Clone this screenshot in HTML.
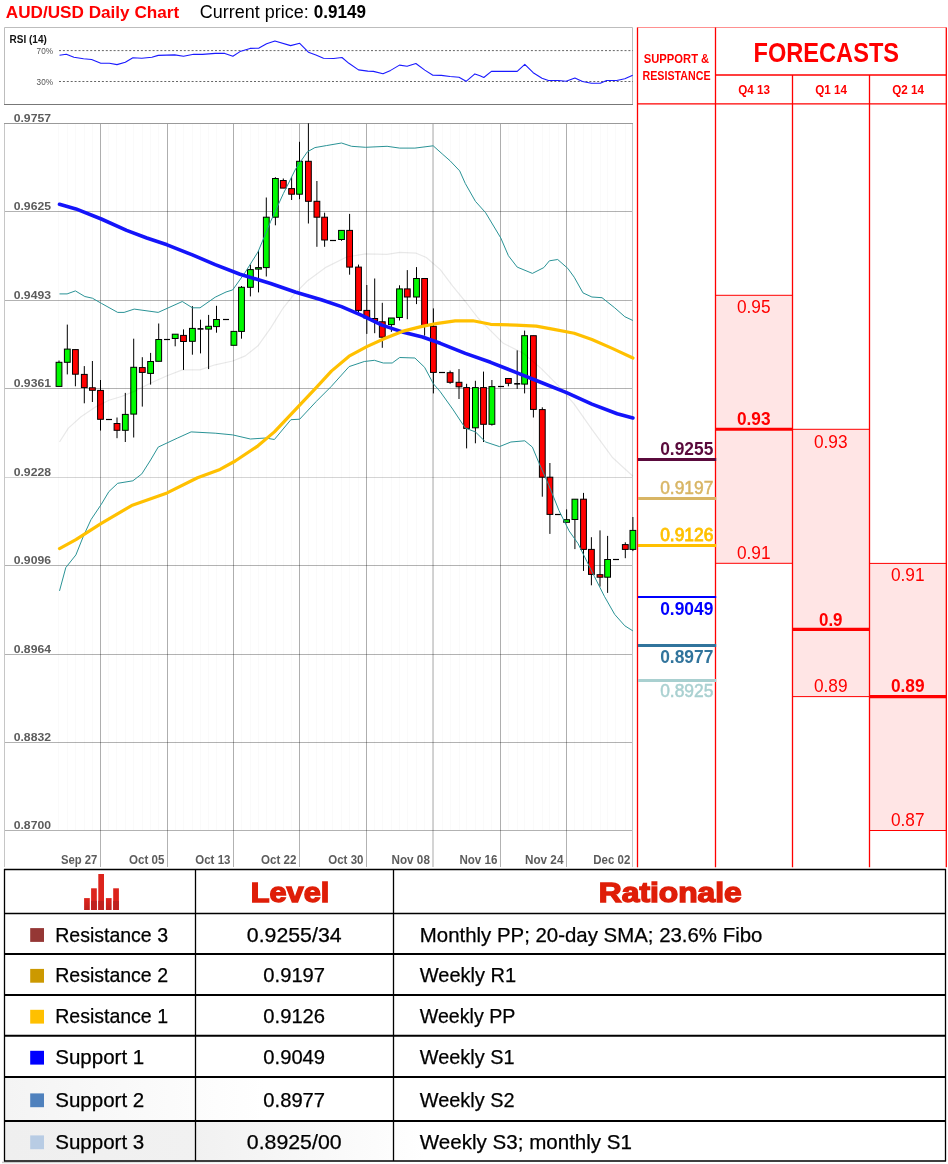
<!DOCTYPE html>
<html><head><meta charset="utf-8"><title>AUD/USD Daily Chart</title>
<style>
html,body{margin:0;padding:0;background:#fff;}
body{width:948px;height:1164px;overflow:hidden;position:relative;font-family:"Liberation Sans",sans-serif;}
svg{position:absolute;left:0;top:0;display:block;will-change:transform}
text{font-family:"Liberation Sans",sans-serif;}
.ax{font:bold 10.7px "Liberation Sans",sans-serif;fill:#5c5c5c;}
.tt{font:20.2px "Liberation Sans",sans-serif;fill:#000;stroke:#000;stroke-width:0.25px;}
.hd{font:bold 27.4px "Liberation Sans",sans-serif;fill:#df1e08;stroke:#df1e08;stroke-width:1.4px;}
</style></head><body>
<svg width="948" height="1164" viewBox="0 0 948 1164">
<rect width="948" height="1164" fill="#fff"/>
<text x="5.8" y="17.6" textLength="173.4" lengthAdjust="spacingAndGlyphs" style="font:bold 17px 'Liberation Sans',sans-serif;fill:#ff0000">AUD/USD Daily Chart</text>
<text x="199.7" y="17.6" textLength="109" lengthAdjust="spacingAndGlyphs" style="font:17.5px 'Liberation Sans',sans-serif;fill:#000">Current price:</text>
<text x="313.8" y="17.6" textLength="52.2" lengthAdjust="spacingAndGlyphs" style="font:bold 17.5px 'Liberation Sans',sans-serif;fill:#000">0.9149</text>
<g id="chart">
<rect x="4.5" y="123.5" width="628.5" height="744" fill="#fff" stroke="none"/>
<path d="M58.5,124V830 M67.5,124V830 M75.5,124V830 M84.5,124V830 M92.5,124V830 M100.5,124V830 M108.5,124V830 M116.5,124V830 M125.5,124V830 M133.5,124V830 M142.5,124V830 M150.5,124V830 M158.5,124V830 M167.5,124V830 M175.5,124V830 M183.5,124V830 M192.5,124V830 M200.5,124V830 M208.5,124V830 M216.5,124V830 M225.5,124V830 M233.5,124V830 M241.5,124V830 M250.5,124V830 M258.5,124V830 M266.5,124V830 M275.5,124V830 M283.5,124V830 M291.5,124V830 M299.5,124V830 M308.5,124V830 M316.5,124V830 M324.5,124V830 M332.5,124V830 M341.5,124V830 M349.5,124V830 M358.5,124V830 M366.5,124V830 M374.5,124V830 M382.5,124V830 M391.5,124V830 M399.5,124V830 M407.5,124V830 M416.5,124V830 M424.5,124V830 M433.5,124V830 M442.5,124V830 M450.5,124V830 M459.5,124V830 M466.5,124V830 M475.5,124V830 M483.5,124V830 M491.5,124V830 M500.5,124V830 M508.5,124V830 M517.5,124V830 M524.5,124V830 M533.5,124V830 M542.5,124V830 M549.5,124V830 M558.5,124V830 M566.5,124V830 M574.5,124V830 M583.5,124V830 M591.5,124V830 M600.5,124V830 M607.5,124V830 M615.5,124V830 M625.5,124V830 M632.5,124V830 " stroke="#000" stroke-opacity="0.02" stroke-width="1" fill="none"/>
<line x1="100.5" y1="124" x2="100.5" y2="867" stroke="#000" stroke-opacity="0.3" stroke-width="1"/>
<line x1="167.5" y1="124" x2="167.5" y2="867" stroke="#000" stroke-opacity="0.3" stroke-width="1"/>
<line x1="233.5" y1="124" x2="233.5" y2="867" stroke="#000" stroke-opacity="0.3" stroke-width="1"/>
<line x1="299.5" y1="124" x2="299.5" y2="867" stroke="#000" stroke-opacity="0.3" stroke-width="1"/>
<line x1="366.5" y1="124" x2="366.5" y2="867" stroke="#000" stroke-opacity="0.3" stroke-width="1"/>
<line x1="433.0" y1="124" x2="433.0" y2="867" stroke="#000" stroke-opacity="0.17" stroke-width="2"/>
<line x1="500.5" y1="124" x2="500.5" y2="867" stroke="#000" stroke-opacity="0.3" stroke-width="1"/>
<line x1="566.5" y1="124" x2="566.5" y2="867" stroke="#000" stroke-opacity="0.3" stroke-width="1"/>
<line x1="5" y1="211.5" x2="632" y2="211.5" stroke="#000" stroke-opacity="0.3" stroke-width="1"/>
<line x1="5" y1="300.5" x2="632" y2="300.5" stroke="#000" stroke-opacity="0.3" stroke-width="1"/>
<line x1="5" y1="388.5" x2="632" y2="388.5" stroke="#000" stroke-opacity="0.3" stroke-width="1"/>
<line x1="5" y1="477.5" x2="632" y2="477.5" stroke="#000" stroke-opacity="0.17" stroke-width="1"/>
<line x1="5" y1="565.5" x2="632" y2="565.5" stroke="#000" stroke-opacity="0.3" stroke-width="1"/>
<line x1="5" y1="654.5" x2="632" y2="654.5" stroke="#000" stroke-opacity="0.3" stroke-width="1"/>
<line x1="5" y1="742.5" x2="632" y2="742.5" stroke="#000" stroke-opacity="0.3" stroke-width="1"/>
<line x1="5" y1="830.5" x2="632" y2="830.5" stroke="#000" stroke-opacity="0.3" stroke-width="1"/>
<path d="M4.5,867V123.5 M632.5,123.5V867" stroke="#c6c6c6" stroke-width="1" fill="none"/>
<path d="M4,123.5H633" stroke="#9a9a9a" stroke-width="1" fill="none"/>
<line x1="59.0" y1="360.5" x2="59.0" y2="386.3" stroke="#000" stroke-width="1"/>
<rect x="56.1" y="362.3" width="5.8" height="24.1" fill="#00fa00" stroke="#000" stroke-width="1"/>
<line x1="67.3" y1="324.6" x2="67.3" y2="374.4" stroke="#000" stroke-width="1"/>
<rect x="64.4" y="349.1" width="5.8" height="13.2" fill="#00fa00" stroke="#000" stroke-width="1"/>
<line x1="75.4" y1="349.6" x2="75.4" y2="386.3" stroke="#000" stroke-width="1"/>
<rect x="72.5" y="349.6" width="5.8" height="24.6" fill="#ff0000" stroke="#000" stroke-width="1"/>
<line x1="84.3" y1="366.1" x2="84.3" y2="403.3" stroke="#000" stroke-width="1"/>
<rect x="81.4" y="374.4" width="5.8" height="13.2" fill="#ff0000" stroke="#000" stroke-width="1"/>
<line x1="92.4" y1="361.0" x2="92.4" y2="402.0" stroke="#000" stroke-width="1"/>
<rect x="89.5" y="387.8" width="5.8" height="2.5" fill="#ff0000" stroke="#000" stroke-width="1"/>
<line x1="100.5" y1="380.0" x2="100.5" y2="430.6" stroke="#000" stroke-width="1"/>
<rect x="97.6" y="390.4" width="5.8" height="28.9" fill="#ff0000" stroke="#000" stroke-width="1"/>
<line x1="106" y1="419.5" x2="112" y2="419.5" stroke="#000" stroke-width="1.2"/>
<line x1="117.0" y1="417.5" x2="117.0" y2="438.2" stroke="#000" stroke-width="1"/>
<rect x="114.1" y="423.5" width="5.8" height="6.8" fill="#ff0000" stroke="#000" stroke-width="1"/>
<line x1="125.3" y1="392.9" x2="125.3" y2="442.0" stroke="#000" stroke-width="1"/>
<rect x="122.4" y="414.4" width="5.8" height="15.9" fill="#00fa00" stroke="#000" stroke-width="1"/>
<line x1="133.7" y1="338.7" x2="133.7" y2="437.5" stroke="#000" stroke-width="1"/>
<rect x="130.8" y="367.3" width="5.8" height="46.8" fill="#00fa00" stroke="#000" stroke-width="1"/>
<line x1="142.3" y1="357.2" x2="142.3" y2="406.6" stroke="#000" stroke-width="1"/>
<rect x="139.4" y="367.6" width="5.8" height="4.8" fill="#ff0000" stroke="#000" stroke-width="1"/>
<line x1="150.6" y1="352.9" x2="150.6" y2="384.6" stroke="#000" stroke-width="1"/>
<rect x="147.7" y="361.5" width="5.8" height="11.9" fill="#00fa00" stroke="#000" stroke-width="1"/>
<line x1="158.7" y1="323.5" x2="158.7" y2="361.3" stroke="#000" stroke-width="1"/>
<rect x="155.8" y="339.5" width="5.8" height="21.8" fill="#00fa00" stroke="#000" stroke-width="1"/>
<line x1="164" y1="339.5" x2="170" y2="339.5" stroke="#000" stroke-width="1.2"/>
<line x1="175.2" y1="334.2" x2="175.2" y2="346.3" stroke="#000" stroke-width="1"/>
<rect x="172.3" y="334.2" width="5.8" height="4.3" fill="#00fa00" stroke="#000" stroke-width="1"/>
<line x1="183.5" y1="329.4" x2="183.5" y2="369.9" stroke="#000" stroke-width="1"/>
<rect x="180.6" y="335.4" width="5.8" height="6.1" fill="#ff0000" stroke="#000" stroke-width="1"/>
<line x1="192.4" y1="306.1" x2="192.4" y2="354.7" stroke="#000" stroke-width="1"/>
<rect x="189.5" y="328.4" width="5.8" height="12.9" fill="#00fa00" stroke="#000" stroke-width="1"/>
<line x1="200.5" y1="319.7" x2="200.5" y2="353.4" stroke="#000" stroke-width="1"/>
<line x1="197.5" y1="328.9" x2="203.5" y2="328.9" stroke="#000" stroke-width="1.6"/>
<line x1="208.6" y1="314.9" x2="208.6" y2="369.1" stroke="#000" stroke-width="1"/>
<rect x="205.7" y="326.3" width="5.8" height="2.8" fill="#00fa00" stroke="#000" stroke-width="1"/>
<line x1="216.5" y1="305.8" x2="216.5" y2="332.7" stroke="#000" stroke-width="1"/>
<rect x="213.6" y="319.5" width="5.8" height="7.1" fill="#00fa00" stroke="#000" stroke-width="1"/>
<line x1="223" y1="319.5" x2="229" y2="319.5" stroke="#000" stroke-width="1.2"/>
<line x1="233.9" y1="331.4" x2="233.9" y2="345.3" stroke="#000" stroke-width="1"/>
<rect x="231.0" y="331.4" width="5.8" height="13.9" fill="#00fa00" stroke="#000" stroke-width="1"/>
<line x1="241.5" y1="286.0" x2="241.5" y2="338.7" stroke="#000" stroke-width="1"/>
<rect x="238.6" y="287.3" width="5.8" height="44.1" fill="#00fa00" stroke="#000" stroke-width="1"/>
<line x1="250.4" y1="264.6" x2="250.4" y2="296.4" stroke="#000" stroke-width="1"/>
<rect x="247.5" y="269.6" width="5.8" height="17.7" fill="#00fa00" stroke="#000" stroke-width="1"/>
<line x1="258.5" y1="250.6" x2="258.5" y2="292.4" stroke="#000" stroke-width="1"/>
<rect x="255.6" y="267.6" width="5.8" height="1.5" fill="#00fa00" stroke="#000" stroke-width="1"/>
<line x1="266.3" y1="197.5" x2="266.3" y2="276.5" stroke="#000" stroke-width="1"/>
<rect x="263.4" y="217.2" width="5.8" height="50.4" fill="#00fa00" stroke="#000" stroke-width="1"/>
<line x1="275.4" y1="177.2" x2="275.4" y2="225.3" stroke="#000" stroke-width="1"/>
<rect x="272.5" y="178.5" width="5.8" height="38.7" fill="#00fa00" stroke="#000" stroke-width="1"/>
<line x1="283.3" y1="178.5" x2="283.3" y2="188.1" stroke="#000" stroke-width="1"/>
<rect x="280.4" y="180.5" width="5.8" height="7.6" fill="#ff0000" stroke="#000" stroke-width="1"/>
<line x1="291.6" y1="177.2" x2="291.6" y2="200.0" stroke="#000" stroke-width="1"/>
<rect x="288.7" y="188.6" width="5.8" height="5.6" fill="#ff0000" stroke="#000" stroke-width="1"/>
<line x1="299.5" y1="141.8" x2="299.5" y2="199.2" stroke="#000" stroke-width="1"/>
<rect x="296.6" y="161.3" width="5.8" height="32.9" fill="#00fa00" stroke="#000" stroke-width="1"/>
<line x1="308.4" y1="123.3" x2="308.4" y2="223.5" stroke="#000" stroke-width="1"/>
<rect x="305.5" y="161.3" width="5.8" height="40.0" fill="#ff0000" stroke="#000" stroke-width="1"/>
<line x1="316.9" y1="181.0" x2="316.9" y2="246.8" stroke="#000" stroke-width="1"/>
<rect x="314.0" y="201.3" width="5.8" height="15.9" fill="#ff0000" stroke="#000" stroke-width="1"/>
<line x1="324.6" y1="212.7" x2="324.6" y2="246.8" stroke="#000" stroke-width="1"/>
<rect x="321.7" y="217.2" width="5.8" height="22.8" fill="#ff0000" stroke="#000" stroke-width="1"/>
<line x1="330" y1="240.5" x2="336" y2="240.5" stroke="#000" stroke-width="1.2"/>
<line x1="341.5" y1="230.4" x2="341.5" y2="240.8" stroke="#000" stroke-width="1"/>
<rect x="338.6" y="230.4" width="5.8" height="9.1" fill="#00fa00" stroke="#000" stroke-width="1"/>
<line x1="349.6" y1="213.9" x2="349.6" y2="274.7" stroke="#000" stroke-width="1"/>
<rect x="346.7" y="230.4" width="5.8" height="36.7" fill="#ff0000" stroke="#000" stroke-width="1"/>
<line x1="358.5" y1="264.6" x2="358.5" y2="312.9" stroke="#000" stroke-width="1"/>
<rect x="355.6" y="267.1" width="5.8" height="43.3" fill="#ff0000" stroke="#000" stroke-width="1"/>
<line x1="366.8" y1="285.0" x2="366.8" y2="333.9" stroke="#000" stroke-width="1"/>
<rect x="363.9" y="310.4" width="5.8" height="7.6" fill="#ff0000" stroke="#000" stroke-width="1"/>
<line x1="374.7" y1="278.5" x2="374.7" y2="333.2" stroke="#000" stroke-width="1"/>
<rect x="371.8" y="318.5" width="5.8" height="2.5" fill="#ff0000" stroke="#000" stroke-width="1"/>
<line x1="382.3" y1="302.8" x2="382.3" y2="347.8" stroke="#000" stroke-width="1"/>
<rect x="379.4" y="321.8" width="5.8" height="15.4" fill="#ff0000" stroke="#000" stroke-width="1"/>
<line x1="391.4" y1="318.0" x2="391.4" y2="331.9" stroke="#000" stroke-width="1"/>
<rect x="388.5" y="318.0" width="5.8" height="6.6" fill="#00fa00" stroke="#000" stroke-width="1"/>
<line x1="399.5" y1="285.3" x2="399.5" y2="320.5" stroke="#000" stroke-width="1"/>
<rect x="396.6" y="288.9" width="5.8" height="28.6" fill="#00fa00" stroke="#000" stroke-width="1"/>
<line x1="407.3" y1="270.1" x2="407.3" y2="319.2" stroke="#000" stroke-width="1"/>
<rect x="404.4" y="288.9" width="5.8" height="8.1" fill="#ff0000" stroke="#000" stroke-width="1"/>
<line x1="416.5" y1="267.1" x2="416.5" y2="304.1" stroke="#000" stroke-width="1"/>
<rect x="413.6" y="278.5" width="5.8" height="18.5" fill="#00fa00" stroke="#000" stroke-width="1"/>
<line x1="424.6" y1="278.5" x2="424.6" y2="335.7" stroke="#000" stroke-width="1"/>
<rect x="421.7" y="278.5" width="5.8" height="47.1" fill="#ff0000" stroke="#000" stroke-width="1"/>
<line x1="433.4" y1="308.4" x2="433.4" y2="393.4" stroke="#000" stroke-width="1"/>
<rect x="430.5" y="326.3" width="5.8" height="46.1" fill="#ff0000" stroke="#000" stroke-width="1"/>
<line x1="439" y1="372.5" x2="445" y2="372.5" stroke="#000" stroke-width="1.2"/>
<line x1="450.1" y1="370.6" x2="450.1" y2="383.8" stroke="#000" stroke-width="1"/>
<rect x="447.2" y="372.7" width="5.8" height="9.6" fill="#ff0000" stroke="#000" stroke-width="1"/>
<line x1="459.0" y1="369.1" x2="459.0" y2="399.0" stroke="#000" stroke-width="1"/>
<rect x="456.1" y="382.3" width="5.8" height="4.5" fill="#ff0000" stroke="#000" stroke-width="1"/>
<line x1="466.6" y1="383.8" x2="466.6" y2="448.4" stroke="#000" stroke-width="1"/>
<rect x="463.7" y="387.6" width="5.8" height="40.8" fill="#ff0000" stroke="#000" stroke-width="1"/>
<line x1="475.4" y1="380.8" x2="475.4" y2="443.3" stroke="#000" stroke-width="1"/>
<rect x="472.5" y="387.6" width="5.8" height="40.2" fill="#00fa00" stroke="#000" stroke-width="1"/>
<line x1="483.5" y1="371.6" x2="483.5" y2="442.0" stroke="#000" stroke-width="1"/>
<rect x="480.6" y="387.6" width="5.8" height="36.7" fill="#ff0000" stroke="#000" stroke-width="1"/>
<line x1="491.9" y1="380.0" x2="491.9" y2="425.6" stroke="#000" stroke-width="1"/>
<rect x="489.0" y="386.6" width="5.8" height="37.7" fill="#00fa00" stroke="#000" stroke-width="1"/>
<line x1="498" y1="386.5" x2="504" y2="386.5" stroke="#000" stroke-width="1.2"/>
<line x1="508.4" y1="378.5" x2="508.4" y2="386.3" stroke="#000" stroke-width="1"/>
<rect x="505.5" y="378.5" width="5.8" height="4.8" fill="#ff0000" stroke="#000" stroke-width="1"/>
<line x1="517.2" y1="350.4" x2="517.2" y2="388.9" stroke="#000" stroke-width="1"/>
<line x1="514.2" y1="383.8" x2="520.2" y2="383.8" stroke="#000" stroke-width="1.6"/>
<line x1="524.6" y1="330.6" x2="524.6" y2="393.4" stroke="#000" stroke-width="1"/>
<rect x="521.7" y="335.7" width="5.8" height="48.4" fill="#00fa00" stroke="#000" stroke-width="1"/>
<line x1="533.4" y1="335.7" x2="533.4" y2="417.5" stroke="#000" stroke-width="1"/>
<rect x="530.5" y="335.7" width="5.8" height="73.7" fill="#ff0000" stroke="#000" stroke-width="1"/>
<line x1="542.3" y1="407.3" x2="542.3" y2="496.7" stroke="#000" stroke-width="1"/>
<rect x="539.4" y="409.6" width="5.8" height="67.6" fill="#ff0000" stroke="#000" stroke-width="1"/>
<line x1="549.9" y1="463.0" x2="549.9" y2="533.9" stroke="#000" stroke-width="1"/>
<rect x="547.0" y="477.2" width="5.8" height="37.2" fill="#ff0000" stroke="#000" stroke-width="1"/>
<line x1="555" y1="514.5" x2="561" y2="514.5" stroke="#000" stroke-width="1.2"/>
<line x1="566.6" y1="509.4" x2="566.6" y2="522.3" stroke="#000" stroke-width="1"/>
<rect x="563.7" y="519.7" width="5.8" height="2.6" fill="#00fa00" stroke="#000" stroke-width="1"/>
<line x1="574.9" y1="499.2" x2="574.9" y2="549.1" stroke="#000" stroke-width="1"/>
<rect x="572.0" y="499.2" width="5.8" height="20.3" fill="#00fa00" stroke="#000" stroke-width="1"/>
<line x1="583.5" y1="492.9" x2="583.5" y2="570.9" stroke="#000" stroke-width="1"/>
<rect x="580.6" y="499.2" width="5.8" height="50.2" fill="#ff0000" stroke="#000" stroke-width="1"/>
<line x1="591.4" y1="537.2" x2="591.4" y2="585.3" stroke="#000" stroke-width="1"/>
<rect x="588.5" y="549.4" width="5.8" height="25.0" fill="#ff0000" stroke="#000" stroke-width="1"/>
<line x1="600.0" y1="530.4" x2="600.0" y2="586.6" stroke="#000" stroke-width="1"/>
<rect x="597.1" y="574.7" width="5.8" height="2.5" fill="#ff0000" stroke="#000" stroke-width="1"/>
<line x1="607.6" y1="535.9" x2="607.6" y2="592.9" stroke="#000" stroke-width="1"/>
<rect x="604.7" y="559.5" width="5.8" height="17.7" fill="#00fa00" stroke="#000" stroke-width="1"/>
<line x1="613" y1="559.5" x2="619" y2="559.5" stroke="#000" stroke-width="1.2"/>
<line x1="625.3" y1="542.3" x2="625.3" y2="558.2" stroke="#000" stroke-width="1"/>
<rect x="622.4" y="544.6" width="5.8" height="4.8" fill="#ff0000" stroke="#000" stroke-width="1"/>
<line x1="632.9" y1="517.0" x2="632.9" y2="551.1" stroke="#000" stroke-width="1"/>
<rect x="630.0" y="530.4" width="5.8" height="19.0" fill="#00fa00" stroke="#000" stroke-width="1"/>
<path d="M59.5,442.0 L68.4,428.1 L81.0,416.7 L96.2,406.6 L108.9,400.3 L121.5,396.5 L134.2,391.4 L151.9,382.5 L167.1,375.7 L182.3,369.9 L200.0,369.9 L215.2,364.8 L232.7,361.0 L245.3,355.9 L258.0,345.8 L270.6,328.1 L283.3,307.8 L293.4,295.2 L307.3,281.0 L326.3,267.1 L346.6,257.0 L365.6,253.9 L387.1,254.4 L399.7,252.4 L416.2,253.2 L426.3,257.5 L440.3,269.6 L452.7,286.1 L465.3,301.5 L478.0,318.0 L503.3,343.3 L523.5,353.4 L541.3,368.6 L559.0,386.3 L574.2,404.1 L591.9,429.4 L612.2,457.2 L632.9,476.2" stroke="#000" stroke-opacity="0.09" stroke-width="1.2" fill="none" stroke-linejoin="round"/>
<path d="M59.5,293.9 L67.1,293.9 L75.4,290.9 L84.8,296.5 L92.4,298.2 L101.3,303.3 L117.7,312.4 L124.1,312.4 L134.2,309.1 L158.2,312.4 L182.3,301.5 L192.4,307.8 L200.0,307.8 L215.2,297.2 L226.0,292.0 L232.7,289.9 L245.3,272.2 L258.0,251.9 L270.6,221.5 L283.3,193.7 L295.9,168.4 L307.3,151.9 L314.9,147.6 L326.3,145.6 L341.5,143.0 L351.6,146.3 L365.6,147.3 L387.1,146.3 L399.7,148.1 L414.9,148.1 L433.2,145.8 L442.8,154.4 L450.1,160.8 L459.7,170.9 L465.3,183.5 L475.4,201.3 L485.6,212.7 L500.8,238.0 L508.4,255.7 L517.2,267.1 L532.4,273.4 L543.8,267.6 L549.4,260.8 L557.7,259.5 L567.8,268.4 L574.2,277.2 L583.0,292.9 L591.9,297.0 L602.0,297.7 L614.7,307.8 L624.8,316.7 L632.9,320.5" stroke="#2a9396" stroke-width="1.0" fill="none" stroke-linejoin="round"/>
<path d="M59.5,590.9 L65.8,567.6 L75.9,554.9 L83.5,535.9 L91.1,519.5 L101.3,504.3 L108.9,491.6 L117.7,483.3 L132.9,480.8 L141.8,473.9 L150.6,460.0 L158.2,447.1 L177.2,438.2 L191.1,431.9 L215.2,433.2 L232.7,434.9 L250.4,439.0 L265.6,438.0 L274.4,439.5 L290.9,419.7 L299.7,419.2 L316.2,401.5 L331.4,386.3 L349.1,366.6 L364.3,361.5 L374.4,360.3 L383.3,363.0 L392.2,363.0 L399.7,357.5 L414.9,358.0 L424.6,367.3 L433.4,383.8 L440.0,391.4 L452.7,409.1 L465.3,428.1 L475.4,431.9 L485.6,442.0 L499.5,446.6 L510.9,442.0 L524.8,440.8 L532.4,447.1 L538.7,462.3 L548.9,485.3 L559.0,510.6 L569.1,530.9 L578.0,543.5 L586.8,561.3 L594.4,576.5 L604.6,596.7 L614.7,614.4 L624.8,625.8 L632.9,630.9" stroke="#2a9396" stroke-width="1.0" fill="none" stroke-linejoin="round"/>
<path d="M59.5,204.3 L75.9,208.9 L101.3,219.0 L126.6,230.4 L146.8,238.0 L167.1,244.8 L192.4,254.9 L215.2,264.6 L240.0,274.2 L270.6,283.5 L295.9,292.2 L321.3,299.7 L341.5,306.6 L361.8,315.4 L382.0,325.1 L402.3,331.9 L422.5,337.0 L440.3,343.3 L465.3,353.4 L490.6,362.3 L515.9,372.4 L541.3,382.5 L566.6,392.7 L591.9,404.1 L617.2,413.7 L632.9,418.0" stroke="#1414fa" stroke-width="3.6" fill="none" stroke-linejoin="round" stroke-linecap="round"/>
<path d="M59.5,548.6 L75.9,539.7 L101.3,523.3 L131.6,505.6 L167.1,492.9 L197.5,477.7 L220.0,469.4 L235.2,461.0 L258.0,445.8 L274.4,431.9 L295.9,409.1 L316.2,387.6 L331.4,371.1 L349.1,356.2 L366.8,346.6 L384.6,338.5 L402.3,331.4 L420.0,326.9 L437.7,323.3 L455.2,320.8 L472.9,320.8 L490.6,324.3 L515.9,325.1 L536.2,326.1 L553.9,329.4 L574.2,333.2 L591.9,339.5 L612.2,348.4 L632.9,358.0" stroke="#ffc000" stroke-width="3.2" fill="none" stroke-linejoin="round" stroke-linecap="round"/>
<text x="13.7" y="121.8" class="ax" textLength="37.3" lengthAdjust="spacingAndGlyphs">0.9757</text>
<text x="13.7" y="210.0" class="ax" textLength="37.3" lengthAdjust="spacingAndGlyphs">0.9625</text>
<text x="13.7" y="299.0" class="ax" textLength="37.3" lengthAdjust="spacingAndGlyphs">0.9493</text>
<text x="13.7" y="387.0" class="ax" textLength="37.3" lengthAdjust="spacingAndGlyphs">0.9361</text>
<text x="13.7" y="476.0" class="ax" textLength="37.3" lengthAdjust="spacingAndGlyphs">0.9228</text>
<text x="13.7" y="564.0" class="ax" textLength="37.3" lengthAdjust="spacingAndGlyphs">0.9096</text>
<text x="13.7" y="653.0" class="ax" textLength="37.3" lengthAdjust="spacingAndGlyphs">0.8964</text>
<text x="13.7" y="741.0" class="ax" textLength="37.3" lengthAdjust="spacingAndGlyphs">0.8832</text>
<text x="13.7" y="829.0" class="ax" textLength="37.3" lengthAdjust="spacingAndGlyphs">0.8700</text>
<text x="61.0" y="864.0" class="ax" style="font-size:12.3px" textLength="36.4" lengthAdjust="spacingAndGlyphs">Sep 27</text>
<text x="129.0" y="864.0" class="ax" style="font-size:12.3px" textLength="35.4" lengthAdjust="spacingAndGlyphs">Oct 05</text>
<text x="195.3" y="864.0" class="ax" style="font-size:12.3px" textLength="35.1" lengthAdjust="spacingAndGlyphs">Oct 13</text>
<text x="261.0" y="864.0" class="ax" style="font-size:12.3px" textLength="35.4" lengthAdjust="spacingAndGlyphs">Oct 22</text>
<text x="328.3" y="864.0" class="ax" style="font-size:12.3px" textLength="35.1" lengthAdjust="spacingAndGlyphs">Oct 30</text>
<text x="391.5" y="864.0" class="ax" style="font-size:12.3px" textLength="38.4" lengthAdjust="spacingAndGlyphs">Nov 08</text>
<text x="459.4" y="864.0" class="ax" style="font-size:12.3px" textLength="38" lengthAdjust="spacingAndGlyphs">Nov 16</text>
<text x="525.0" y="864.0" class="ax" style="font-size:12.3px" textLength="38.4" lengthAdjust="spacingAndGlyphs">Nov 24</text>
<text x="593.3" y="864.0" class="ax" style="font-size:12.3px" textLength="37" lengthAdjust="spacingAndGlyphs">Dec 02</text>
<rect x="4.5" y="27.5" width="628.5" height="76.8" fill="#fff" stroke="none"/>
<path d="M4.5,104.5V27.5H632.5V104.5" stroke="#bdbdbd" stroke-width="1" fill="none"/>
<line x1="4" y1="104.5" x2="633" y2="104.5" stroke="#777" stroke-width="1"/>
<line x1="59" y1="50.6" x2="633" y2="50.6" stroke="#555" stroke-width="0.9" stroke-dasharray="2,1.9"/>
<line x1="59" y1="81.5" x2="633" y2="81.5" stroke="#555" stroke-width="0.9" stroke-dasharray="2,1.9"/>
<path d="M59.5,55.2 L66.3,54.2 L73.9,57.2 L83.5,58.7 L91.6,59.5 L100.8,63.3 L109.4,63.3 L117.0,64.6 L125.3,62.3 L132.9,57.7 L141.8,58.2 L151.9,57.2 L158.2,55.4 L174.7,54.9 L183.5,56.2 L193.7,54.2 L202.5,54.4 L215.2,53.4 L224.8,53.4 L232.9,56.2 L240.0,51.6 L250.1,48.4 L259.0,48.1 L266.6,43.8 L274.9,41.0 L290.6,45.6 L299.7,43.3 L308.4,52.2 L315.9,54.9 L323.5,58.2 L333.7,58.5 L342.0,57.5 L348.9,63.3 L358.5,69.9 L367.8,71.1 L373.4,71.4 L383.0,73.7 L390.6,70.4 L399.5,65.1 L407.1,66.3 L415.9,63.5 L424.8,70.1 L432.9,75.2 L441.3,75.4 L450.1,76.5 L459.0,77.2 L466.1,81.3 L474.9,73.9 L480.0,75.7 L483.8,77.5 L491.4,71.4 L517.2,71.4 L524.8,64.3 L533.2,72.7 L542.0,78.2 L548.4,80.5 L558.5,80.5 L566.1,81.3 L574.9,78.0 L582.5,81.5 L591.4,83.3 L600.3,83.3 L606.6,80.5 L616.7,80.5 L624.8,78.7 L632.7,75.2" stroke="#1a1aff" stroke-width="1.1" fill="none" stroke-linejoin="round"/>
<text x="9.6" y="43" textLength="37.2" lengthAdjust="spacingAndGlyphs" style="font:bold 10.5px 'Liberation Sans',sans-serif;fill:#111">RSI (14)</text>
<text x="53" y="53.5" text-anchor="end" style="font:8.2px 'Liberation Sans',sans-serif;fill:#555">70%</text>
<text x="53" y="84.5" text-anchor="end" style="font:8.2px 'Liberation Sans',sans-serif;fill:#555">30%</text>
</g>
<g id="right">
<rect x="715.5" y="295.3" width="77" height="268" fill="#ffe5e5" stroke="#ff0000" stroke-width="1"/>
<rect x="792.5" y="429.3" width="77" height="267.3" fill="#ffe5e5" stroke="#ff0000" stroke-width="1"/>
<rect x="869.5" y="563.4" width="77" height="267.1" fill="#ffe5e5" stroke="#ff0000" stroke-width="1"/>
<path d="M637.5,27.5H946.3" stroke="#ff9090" stroke-width="1" fill="none"/>
<path d="M637.5,867.3V27.5 M946.3,27.5V867.3 M715.5,27.5V867.3 M792.5,75V867.3 M869.5,75V867.3 M715.5,75H946.3 M637.5,103.8H946.3" stroke="#ff0000" stroke-width="1.3" fill="none"/>
<line x1="715.5" y1="429.2" x2="792.5" y2="429.2" stroke="#ff0000" stroke-width="3.1"/>
<line x1="792.5" y1="629.4" x2="869.5" y2="629.4" stroke="#ff0000" stroke-width="3.1"/>
<line x1="869.5" y1="696.6" x2="946.3" y2="696.6" stroke="#ff0000" stroke-width="3.1"/>
<text x="736.9" y="313" textLength="33.6" lengthAdjust="spacingAndGlyphs" style="font:17.8px 'Liberation Sans',sans-serif;fill:#ff0000">0.95</text>
<text x="736.9" y="424.6" textLength="33.6" lengthAdjust="spacingAndGlyphs" style="font:bold 17.8px 'Liberation Sans',sans-serif;fill:#ff0000">0.93</text>
<text x="736.9" y="559.4" textLength="33.6" lengthAdjust="spacingAndGlyphs" style="font:17.8px 'Liberation Sans',sans-serif;fill:#ff0000">0.91</text>
<text x="813.9" y="447.8" textLength="33.6" lengthAdjust="spacingAndGlyphs" style="font:17.8px 'Liberation Sans',sans-serif;fill:#ff0000">0.93</text>
<text x="819.0" y="625.6" textLength="23.5" lengthAdjust="spacingAndGlyphs" style="font:bold 17.8px 'Liberation Sans',sans-serif;fill:#ff0000">0.9</text>
<text x="813.9" y="692.4" textLength="33.6" lengthAdjust="spacingAndGlyphs" style="font:17.8px 'Liberation Sans',sans-serif;fill:#ff0000">0.89</text>
<text x="890.9" y="581" textLength="33.6" lengthAdjust="spacingAndGlyphs" style="font:17.8px 'Liberation Sans',sans-serif;fill:#ff0000">0.91</text>
<text x="890.9" y="692.4" textLength="33.6" lengthAdjust="spacingAndGlyphs" style="font:bold 17.8px 'Liberation Sans',sans-serif;fill:#ff0000">0.89</text>
<text x="890.9" y="825.8" textLength="33.6" lengthAdjust="spacingAndGlyphs" style="font:17.8px 'Liberation Sans',sans-serif;fill:#ff0000">0.87</text>
<line x1="638" y1="459.5" x2="716.2" y2="459.5" stroke="#5a0a3c" stroke-width="3"/><text x="660.2" y="455" textLength="53.2" lengthAdjust="spacingAndGlyphs" style="font:bold 17.6px 'Liberation Sans',sans-serif;fill:#5a0a3c;stroke:#5a0a3c;stroke-width:0px">0.9255</text>
<line x1="638" y1="498.4" x2="716.2" y2="498.4" stroke="#d8b564" stroke-width="3"/><text x="660.2" y="493.8" textLength="53.2" lengthAdjust="spacingAndGlyphs" style="font:17.6px 'Liberation Sans',sans-serif;fill:#d8b564;stroke:#d8b564;stroke-width:0.5px">0.9197</text>
<line x1="638" y1="545.6" x2="716.2" y2="545.6" stroke="#ffc000" stroke-width="3"/><text x="660.2" y="540.6" textLength="53.2" lengthAdjust="spacingAndGlyphs" style="font:17.6px 'Liberation Sans',sans-serif;fill:#ffc000;stroke:#ffc000;stroke-width:0.8px">0.9126</text>
<line x1="638" y1="596.9" x2="716.2" y2="596.9" stroke="#0000ff" stroke-width="2"/><text x="660.2" y="614.6" textLength="53.2" lengthAdjust="spacingAndGlyphs" style="font:bold 17.6px 'Liberation Sans',sans-serif;fill:#0000ff;stroke:#0000ff;stroke-width:0px">0.9049</text>
<line x1="638" y1="645.5" x2="716.2" y2="645.5" stroke="#31749c" stroke-width="3"/><text x="660.2" y="662.8" textLength="53.2" lengthAdjust="spacingAndGlyphs" style="font:bold 17.6px 'Liberation Sans',sans-serif;fill:#31749c;stroke:#31749c;stroke-width:0px">0.8977</text>
<line x1="638" y1="680.6" x2="716.2" y2="680.6" stroke="#a9d0d0" stroke-width="3"/><text x="660.2" y="697.4" textLength="53.2" lengthAdjust="spacingAndGlyphs" style="font:17.6px 'Liberation Sans',sans-serif;fill:#a9d0d0;stroke:#a9d0d0;stroke-width:0.5px">0.8925</text>
<text x="676.5" y="63.3" text-anchor="middle" textLength="65.4" lengthAdjust="spacingAndGlyphs" style="font:bold 12px 'Liberation Sans',sans-serif;fill:#ff0000">SUPPORT &amp;</text>
<text x="676.5" y="79.8" text-anchor="middle" textLength="68" lengthAdjust="spacingAndGlyphs" style="font:bold 12px 'Liberation Sans',sans-serif;fill:#ff0000">RESISTANCE</text>
<text x="826.3" y="62.3" text-anchor="middle" textLength="145.5" lengthAdjust="spacingAndGlyphs" style="font:bold 28px 'Liberation Sans',sans-serif;fill:#ff0000">FORECASTS</text>
<text x="754.2" y="94.4" text-anchor="middle" textLength="31.8" lengthAdjust="spacingAndGlyphs" style="font:bold 12px 'Liberation Sans',sans-serif;fill:#ff0000">Q4 13</text>
<text x="831.2" y="94.4" text-anchor="middle" textLength="31.8" lengthAdjust="spacingAndGlyphs" style="font:bold 12px 'Liberation Sans',sans-serif;fill:#ff0000">Q1 14</text>
<text x="908.2" y="94.4" text-anchor="middle" textLength="31.8" lengthAdjust="spacingAndGlyphs" style="font:bold 12px 'Liberation Sans',sans-serif;fill:#ff0000">Q2 14</text>
</g>
<g id="table">
<defs><linearGradient id="gs" x1="0" x2="1" y1="0" y2="0"><stop offset="0" stop-color="#efefef"/><stop offset="0.45" stop-color="#f1f1f1"/><stop offset="1" stop-color="#ffffff"/></linearGradient><linearGradient id="gs2" x1="0" x2="1" y1="0" y2="0"><stop offset="0" stop-color="#f4f4f4"/><stop offset="1" stop-color="#ffffff"/></linearGradient><linearGradient id="gs3" x1="0" x2="1" y1="0" y2="0"><stop offset="0" stop-color="#c8c8c8"/><stop offset="1" stop-color="#ffffff"/></linearGradient></defs>
<rect x="5" y="1121" width="420" height="40" fill="url(#gs)"/>
<rect x="5" y="1077" width="260" height="44" fill="url(#gs2)"/>
<rect x="2" y="1161.6" width="300" height="1.6" fill="url(#gs3)"/>
<path d="M4.5,868.9V1161.6 M195.5,869.5V1161 M393.5,869.5V1161 M945.5,868.9V1161.6 M4,869.5H946 M4,913.5H946 M4,1161H946" stroke="#000" stroke-width="1.3" fill="none"/>
<path d="M4,954H946 M4,995H946 M4,1035.7H946 M4,1077H946 M4,1121H946" stroke="#000" stroke-width="2" fill="none"/>
<rect x="30.2" y="928.1" width="13.8" height="13.8" fill="#953735"/>
<text x="55.2" y="941.5" class="tt" textLength="112.8" lengthAdjust="spacingAndGlyphs">Resistance 3</text>
<text x="246.8" y="941.5" class="tt" textLength="94.8" lengthAdjust="spacingAndGlyphs">0.9255/34</text>
<text x="419.8" y="941.5" class="tt" textLength="342.6" lengthAdjust="spacingAndGlyphs">Monthly PP; 20-day SMA; 23.6% Fibo</text>
<rect x="30.2" y="968.9" width="13.8" height="13.8" fill="#cc9900"/>
<text x="55.2" y="982.3" class="tt" textLength="112.8" lengthAdjust="spacingAndGlyphs">Resistance 2</text>
<text x="263.3" y="982.3" class="tt" textLength="61.8" lengthAdjust="spacingAndGlyphs">0.9197</text>
<text x="419.8" y="982.3" class="tt" textLength="96.4" lengthAdjust="spacingAndGlyphs">Weekly R1</text>
<rect x="30.2" y="1009.8" width="13.8" height="13.8" fill="#ffc000"/>
<text x="55.2" y="1023.1" class="tt" textLength="112.8" lengthAdjust="spacingAndGlyphs">Resistance 1</text>
<text x="263.3" y="1023.1" class="tt" textLength="61.8" lengthAdjust="spacingAndGlyphs">0.9126</text>
<text x="419.8" y="1023.1" class="tt" textLength="95.6" lengthAdjust="spacingAndGlyphs">Weekly PP</text>
<rect x="30.2" y="1050.8" width="13.8" height="13.8" fill="#0000ff"/>
<text x="55.2" y="1064.1" class="tt" textLength="89.1" lengthAdjust="spacingAndGlyphs">Support 1</text>
<text x="263.3" y="1064.1" class="tt" textLength="61.8" lengthAdjust="spacingAndGlyphs">0.9049</text>
<text x="419.8" y="1064.1" class="tt" textLength="94.7" lengthAdjust="spacingAndGlyphs">Weekly S1</text>
<rect x="30.2" y="1093.4" width="13.8" height="13.8" fill="#4f81bd"/>
<text x="55.2" y="1106.8" class="tt" textLength="89.1" lengthAdjust="spacingAndGlyphs">Support 2</text>
<text x="263.3" y="1106.8" class="tt" textLength="61.8" lengthAdjust="spacingAndGlyphs">0.8977</text>
<text x="419.8" y="1106.8" class="tt" textLength="94.7" lengthAdjust="spacingAndGlyphs">Weekly S2</text>
<rect x="30.2" y="1135.4" width="13.8" height="13.8" fill="#b8cce4"/>
<text x="55.2" y="1148.8" class="tt" textLength="89.1" lengthAdjust="spacingAndGlyphs">Support 3</text>
<text x="246.8" y="1148.8" class="tt" textLength="94.8" lengthAdjust="spacingAndGlyphs">0.8925/00</text>
<text x="419.8" y="1148.8" class="tt" textLength="212.2" lengthAdjust="spacingAndGlyphs">Weekly S3; monthly S1</text>
<text x="290" y="902" text-anchor="middle" textLength="78.5" lengthAdjust="spacingAndGlyphs" class="hd">Level</text>
<text x="670.3" y="902" text-anchor="middle" textLength="143" lengthAdjust="spacingAndGlyphs" class="hd">Rationale</text>
<defs><linearGradient id="gb" x1="0" x2="0" y1="0" y2="1"><stop offset="0" stop-color="#dc241c"/><stop offset="0.25" stop-color="#d8231c"/><stop offset="1" stop-color="#bd211d"/></linearGradient></defs>
<rect x="84.1" y="898.1" width="5.7" height="11.9" fill="url(#gb)"/>
<rect x="91.1" y="888.3" width="5.7" height="21.7" fill="#dc241c"/>
<rect x="91.1" y="900.9" width="5.7" height="9.1" fill="#bf221e"/>
<rect x="98.3" y="874.0" width="5.7" height="36.0" fill="#dc241c"/>
<rect x="98.3" y="900.9" width="5.7" height="9.1" fill="#bf221e"/>
<rect x="105.9" y="898.1" width="5.7" height="11.9" fill="url(#gb)"/>
<rect x="113.2" y="888.3" width="5.7" height="21.7" fill="#dc241c"/>
<rect x="113.2" y="900.9" width="5.7" height="9.1" fill="#bf221e"/>
</g>
</svg>
</body></html>
